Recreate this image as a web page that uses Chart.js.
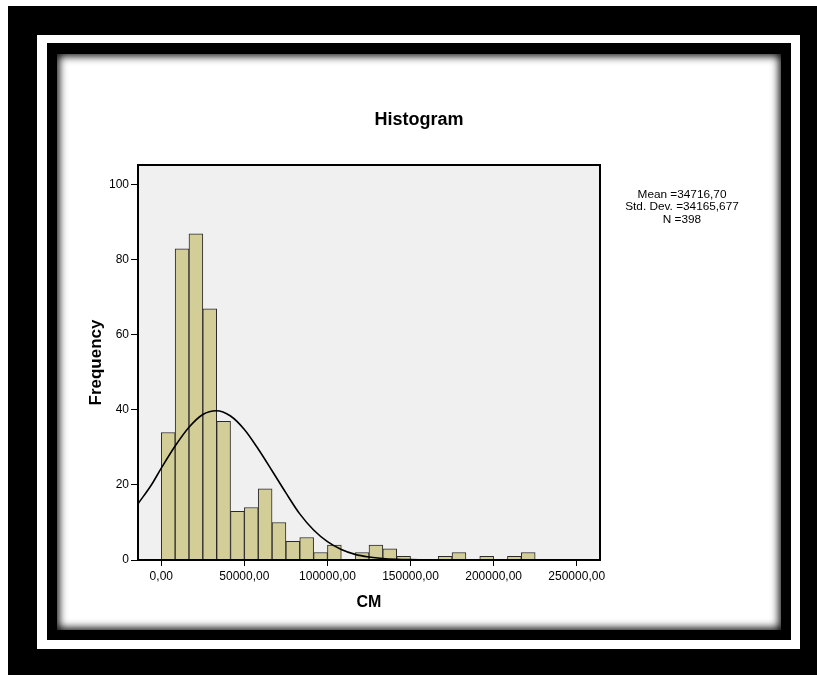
<!DOCTYPE html>
<html>
<head>
<meta charset="utf-8">
<script src="https://cdn.jsdelivr.net/npm/chart.js@4.4.1/dist/chart.umd.min.js"></script>
<style>
body{margin:0;width:817px;height:675px;position:relative;overflow:hidden;background:#fff;}
.frame{position:absolute;}
#outer{left:8px;top:6px;right:0;bottom:0;background:#000;}
#band{left:37px;top:35px;width:763px;height:614px;background:#fff;}
#inner{left:47px;top:43px;width:744px;height:597px;background:#000;}
#panel{left:57px;top:54px;width:724px;height:576px;background:#fff;box-shadow:inset 0 0 8px 2px #000;}
#chart{position:absolute;left:0;top:0;}
</style>
</head>
<body>
<div class="frame" id="outer"></div>
<div class="frame" id="band"></div>
<div class="frame" id="inner"></div>
<div class="frame" id="panel"></div>
<canvas id="chart" width="817" height="675"></canvas>
<script>
const family = "Arial, 'Liberation Sans', sans-serif";

// CM histogram, bins of width 50000/6 starting at 0
const binWidth = 50000 / 6;
const counts = [34, 83, 87, 67, 37, 13, 14, 19, 10, 5, 6, 2, 4, 0, 2, 4, 3, 1, 0, 0, 1, 2, 0, 1, 0, 1, 2];
const binCenters = counts.map((c, i) => (i + 0.5) * binWidth);

// fitted normal curve
const curveX = [-14000, -6000, 0, 8333, 16667, 25000, 33000, 41667, 50000, 58333, 66667, 75000, 83333, 91667, 100000, 108333, 116667, 125000, 133333, 141667, 150000, 166667, 264000];
const curveY = [15.0, 20.0, 24.5, 30.4, 35.4, 38.8, 39.8, 38.4, 34.8, 29.6, 23.8, 17.9, 12.3, 8.0, 4.9, 2.8, 1.5, 0.8, 0.4, 0.2, 0.1, 0, 0];

const xTicks = [0, 50000, 100000, 150000, 200000, 250000];
const yTicks = [0, 20, 40, 60, 80, 100];
const xMin = -14020, xMax = 264020;
const yMax = 105.33;

const statLines = ["Mean =34716,70", "Std. Dev. =34165,677", "N =398"];

// grey plot background, black box round it, title and stats text
const plotFrame = {
  id: 'plotFrame',
  beforeDraw(chart){
    const {ctx, chartArea: a} = chart;
    ctx.save();
    ctx.fillStyle = '#f0f0f0';
    ctx.fillRect(a.left, a.top, a.right - a.left, a.bottom - a.top);
    ctx.restore();
  },
  afterDatasetsDraw(chart){
    const {ctx, chartArea: a} = chart;
    ctx.save();
    ctx.strokeStyle = '#000';
    ctx.lineWidth = 2;
    ctx.strokeRect(a.left, a.top, a.right - a.left, a.bottom - a.top);
    ctx.restore();
  },
  afterDraw(chart){
    const ctx = chart.ctx;
    ctx.save();
    ctx.fillStyle = '#000';
    ctx.textAlign = 'center';
    ctx.textBaseline = 'middle';
    ctx.font = 'bold 18px ' + family;
    ctx.fillText('Histogram', 419, 120);
    ctx.font = '11.8px ' + family;
    statLines.forEach((t, i) => ctx.fillText(t, 682, 194.5 + i * 12.4));
    ctx.restore();
  }
};

Chart.defaults.font.family = family;

new Chart(document.getElementById('chart'), {
  type: 'bar',
  data: {
    datasets: [
      {
        type: 'line',
        data: curveX.map((x, i) => ({x, y: curveY[i]})),
        borderColor: '#000',
        borderWidth: 1.6,
        pointRadius: 0,
        fill: false,
        cubicInterpolationMode: 'monotone',
        order: 0
      },
      {
        type: 'bar',
        data: binCenters.map((x, i) => ({x, y: counts[i]})),
        backgroundColor: '#d3ce98',
        borderColor: '#2a2a2a',
        borderWidth: 1,
        barPercentage: 1,
        categoryPercentage: 1,
        grouped: false,
        order: 1
      }
    ]
  },
  options: {
    responsive: false,
    devicePixelRatio: 1,
    animation: false,
    layout: {padding: {left: 78, right: 217, top: 165, bottom: 55}},
    plugins: {legend: {display: false}, tooltip: {enabled: false}, title: {display: false}},
    scales: {
      x: {
        type: 'linear',
        min: xMin,
        max: xMax,
        offset: false,
        afterBuildTicks: s => { s.ticks = xTicks.map(v => ({value: v})); },
        afterFit: s => { s.height = 60; },
        grid: {offset: false, drawOnChartArea: false, tickLength: 6, color: '#000'},
        border: {color: '#000', width: 2},
        ticks: {
          color: '#000', font: {size: 12}, padding: 3, maxRotation: 0, autoSkip: false,
          callback: v => v.toFixed(2).replace('.', ',')
        },
        title: {display: true, text: 'CM', color: '#000', font: {size: 16, weight: 'bold'}, padding: {top: 0, bottom: 7.4}}
      },
      y: {
        min: 0,
        max: yMax,
        afterBuildTicks: s => { s.ticks = yTicks.map(v => ({value: v})); },
        afterFit: s => { s.width = 60; },
        grid: {drawOnChartArea: false, tickLength: 7, color: '#000'},
        border: {color: '#000', width: 2},
        ticks: {color: '#000', font: {size: 12}, padding: 2},
        title: {display: true, text: 'Frequency', color: '#000', font: {size: 17, weight: 'bold'}, padding: {top: 8.3, bottom: 0}}
      }
    }
  },
  plugins: [plotFrame]
});
</script>
</body>
</html>
